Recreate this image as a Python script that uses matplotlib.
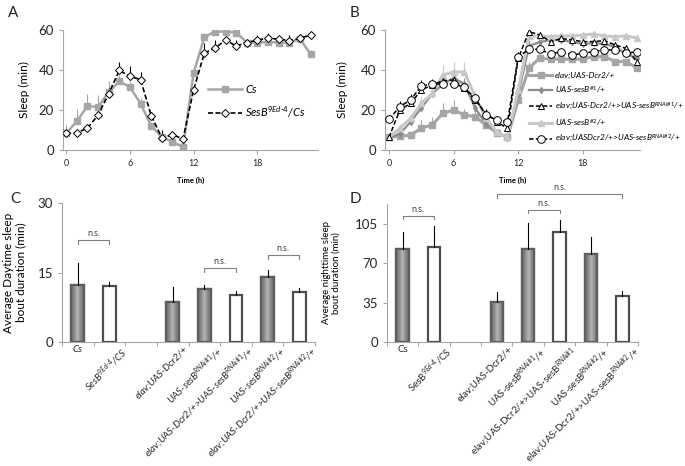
import matplotlib

matplotlib.use("Agg")
import matplotlib.pyplot as plt
import matplotlib.transforms as mtransforms
from matplotlib.colors import LinearSegmentedColormap
import numpy as np

plt.rcParams["font.family"] = ["Lato", "DejaVu Sans"]
plt.rcParams["mathtext.fontset"] = "custom"
plt.rcParams["mathtext.rm"] = "Lato"
plt.rcParams["mathtext.it"] = "Lato:italic"
plt.rcParams["mathtext.bf"] = "Lato:bold"

HOURS = np.arange(24)
HOUR_TICKS = [0, 6, 12, 18]

# --- panel A: sleep per hour ---
CS_SLEEP = [8.3, 14.4, 21.9, 21.6, 28.9, 34.3, 31.5, 23.2, 12.0, 6.6, 4.0, 1.6,
            38.5, 56.4, 59.2, 59.2, 58.7, 53.7, 53.7, 54.0, 53.7, 53.7, 55.5, 48.0]
CS_ERR = [4, 6, 6, 6, 5.6, 3, 3, 3, 2, 2, 1.5, 1,
          3, 2, 1, 1, 1.5, 1, 1, 1, 1, 1, 1.5, 2]
SESB_SLEEP = [8.3, 8.5, 11.0, 17.4, 28.2, 39.8, 36.8, 35.2, 17.2, 6.1, 7.6, 5.6,
              30.2, 48.4, 50.9, 55.0, 52.0, 53.7, 55.0, 55.9, 55.4, 54.7, 55.9, 57.5]
SESB_ERR = [1, 1, 1.5, 2, 3, 4, 5, 4, 2, 4, 1.5, 1.5,
            2, 5, 4.3, 1.5, 3, 1.5, 2.5, 2.6, 1.5, 3, 1.5, 1]

# --- panel B: RNAi lines ---
ELAV_DCR2 = [6.3, 7.0, 7.3, 11.0, 12.5, 18.3, 20.0, 17.5, 16.7, 12.5, 8.7, 6.3,
             25.0, 41.0, 46.0, 45.3, 45.5, 45.3, 45.5, 46.7, 46.7, 44.2, 44.2, 41.0]
ELAV_DCR2_ERR = [1, 1.5, 2, 4, 4, 5, 5, 3, 3, 2, 1.5, 1,
                 3, 3, 2, 1.5, 1.5, 1.5, 1.5, 1.5, 1.5, 1.5, 1.5, 1.5]
UAS_SESB1 = [6.3, 8.0, 14.0, 21.0, 28.0, 33.0, 36.0, 33.0, 21.0, 13.0, 9.0, 6.0,
             28.0, 52.0, 54.0, 55.0, 55.0, 54.0, 53.0, 53.5, 53.0, 51.7, 48.0, 46.0]
UAS_SESB1_ERR = [1, 2, 2, 3, 3, 3, 3, 3, 2, 2, 1.5, 1,
                 3, 3, 2, 2, 2, 2, 2, 2, 2, 2, 2, 2]
RNAI1 = [6.3, 20.0, 23.3, 30.0, 32.5, 34.7, 35.0, 30.8, 25.0, 18.3, 14.2, 10.8,
         46.0, 59.2, 57.5, 54.2, 55.8, 55.0, 54.2, 54.2, 54.7, 52.5, 50.8, 44.2]
RNAI1_ERR = [1, 3, 3, 4, 3, 3, 3, 3, 2, 2, 2, 2,
             3, 1.5, 1.5, 1.5, 1.5, 1.5, 1.5, 1.5, 1.5, 1.5, 1.5, 2]
UAS_SESB2 = [6.3, 10.8, 15.8, 23.3, 28.3, 37.5, 39.0, 39.0, 26.7, 16.0, 9.0, 6.3,
             30.0, 57.0, 57.0, 56.7, 57.0, 57.0, 57.5, 58.0, 57.0, 56.7, 57.0, 56.0]
UAS_SESB2_ERR = [1, 2, 2, 3, 3, 5, 5, 5, 3, 2, 1.5, 1,
                 3, 1.5, 1.5, 1.5, 1.5, 1.5, 1.5, 1.5, 1.5, 1.5, 1.5, 1.5]
RNAI2 = [15.3, 21.7, 25.0, 32.0, 33.0, 33.0, 33.0, 31.3, 25.8, 17.5, 15.0, 14.2,
         46.7, 50.3, 50.3, 48.0, 49.2, 47.5, 48.3, 49.2, 50.0, 50.0, 48.3, 49.2]
RNAI2_ERR = [2, 3, 3, 3, 2, 2, 2, 2, 2, 2, 2, 2,
             2, 1.5, 1.5, 1.5, 1.5, 1.5, 1.5, 1.5, 1.5, 1.5, 1.5, 2]

# --- panels C/D: bout durations ---
SESB_LABEL = r"SesB$^{9Ed\text{-}4}$/CS"
LABELS_C = ["Cs", SESB_LABEL, "", "elav;UAS-Dcr2/+",
            r"UAS-sesB$^{RNAi\#1}$/+", r"elav;UAS-Dcr2/+>UAS-sesB$^{RNAi\#1}$/+",
            r"UAS-sesB$^{RNAi\#2}$/+", r"elav;UAS-Dcr2/+>UAS-sesB$^{RNAi\#2}$/+"]
LABELS_D = ["Cs", SESB_LABEL, "", "elav;UAS-Dcr2/+",
            r"UAS-sesB$^{RNAi\#1}$/+", r"elav;UAS-Dcr2/+>UAS-sesB$^{RNAi\#1}$",
            r"UAS-sesB$^{RNAi\#2}$/+", r"elav;UAS-Dcr2/+>UAS-sesB$^{RNAi\#2}$/+"]
IS_CONTROL = [True, False, True, True, True, False, True, False]
DAY_BOUT = [12.4, 12.0, np.nan, 8.6, 11.4, 10.1, 14.0, 10.8]
DAY_BOUT_ERR = [4.7, 0.9, np.nan, 3.2, 1.0, 0.8, 1.5, 0.9]
NIGHT_BOUT = [82.8, 84.9, np.nan, 35.7, 82.8, 97.7, 78.6, 41.1]
NIGHT_BOUT_ERR = [14.9, 18.5, np.nan, 9.0, 23.5, 11.0, 14.6, 4.2]

# n.s. brackets: (first bar, last bar, leg bottom, bracket top, text y)
BRACKETS_C = [(0, 1, 21.1, 22.0, 22.4), (4, 5, 15.2, 16.0, 16.4), (6, 7, 17.9, 18.8, 19.2)]
BRACKETS_D = [(0, 1, 109.6, 112.6, 114.0), (4, 5, 114.7, 117.7, 119.5), (3, 7, 128.0, 131.7, 133.5)]

AXIS_GREY = "#a6a6a6"
TEXT = "#262626"
BAR_SHADE = LinearSegmentedColormap.from_list("bar", ["#b4b4b4", "#8a8a8a", "#6a6a6a"])


def style_axes(ax):
    for side in ("top", "right"):
        ax.spines[side].set_visible(False)
    for side in ("left", "bottom"):
        ax.spines[side].set_color(AXIS_GREY)
        ax.spines[side].set_linewidth(0.8)
    ax.tick_params(which="both", color=AXIS_GREY, labelcolor=TEXT, length=3, width=0.8)


def upward_errors(ax, y, err, color, lw=0.8):
    ax.errorbar(HOURS, y, yerr=[np.zeros(len(err)), err], fmt="none",
                ecolor=color, elinewidth=lw, capsize=0, zorder=1)


def sleep_axes(ax, xlim, ylabel_pad):
    style_axes(ax)
    ax.set_xlim(*xlim)
    ax.set_ylim(0, 60)
    ax.set_yticks([0, 20, 40, 60])
    ax.set_xticks(HOUR_TICKS)
    ax.tick_params(axis="y", labelsize=9.5)
    ax.tick_params(axis="x", labelsize=6.5)
    ax.set_xlabel("Time (h)", fontsize=5.5, fontweight="bold", labelpad=6)
    ax.set_ylabel("Sleep (min)", fontsize=8.5, labelpad=ylabel_pad)


def bout_axes(ax, labels, yticks, italic):
    style_axes(ax)
    ax.set_xticks(range(len(labels)))
    ax.set_xticks(np.arange(-0.5, len(labels)), minor=True)
    ax.tick_params(axis="y", labelsize=9.5)
    ax.tick_params(axis="x", which="major", length=0, pad=2)
    ax.tick_params(axis="x", which="minor", length=3)
    ax.set_xticklabels(labels, rotation=45, ha="right", rotation_mode="anchor",
                       fontsize=7, fontstyle="italic" if italic else "normal")
    shift = mtransforms.ScaledTranslation(8 / 72, 0, ax.figure.dpi_scale_trans)
    for lab in ax.get_xticklabels():
        if lab.get_text() == "Cs":
            lab.set_rotation(0)
            lab.set_ha("center")
        else:
            lab.set_transform(lab.get_transform() + shift)
    ax.set_yticks(yticks)


def bars(ax, values, errs, ymax):
    width = 0.4
    for xi, (v, e, ctrl) in enumerate(zip(values, errs, IS_CONTROL)):
        if np.isnan(v):
            continue
        patch = ax.bar(xi, v, width=width, color="#8c8c8c" if ctrl else "white",
                       edgecolor="#5e5e5e" if ctrl else "#4d4d4d", linewidth=1.6,
                       zorder=2)[0]
        if ctrl:
            # Excel style shading: lighter centre, darker sides
            shade = np.abs(np.linspace(-1, 1, 40))[None, :]
            img = ax.imshow(shade, extent=[xi - width / 2, xi + width / 2, 0, v],
                            cmap=BAR_SHADE, aspect="auto", zorder=2.1,
                            interpolation="bilinear")
            img.set_clip_path(patch)
            ax.bar(xi, v, width=width, color="none", edgecolor="#5e5e5e",
                   linewidth=1.6, zorder=2.2)
        ax.plot([xi, xi], [v, v + e], color="black", lw=0.8, zorder=3)
    ax.set_xlim(-0.5, len(values) - 0.5)
    ax.set_ylim(0, ymax)


def brackets(ax, specs):
    for a, b, low, high, ty in specs:
        ax.plot([a, a, b, b], [low, high, high, low], color="#808080", lw=0.8,
                clip_on=False, zorder=3)
        ax.text((a + b) / 2, ty, "n.s.", ha="center", va="bottom", fontsize=6.5,
                color="#404040", clip_on=False)


fig = plt.figure(figsize=(6.85, 4.66), dpi=100)
W, H = 685, 466


def add_axes(x0, x1, ytop, ybot):
    return fig.add_axes([x0 / W, 1 - ybot / H, (x1 - x0) / W, (ybot - ytop) / H])


# Panel A
ax_a = add_axes(63, 318, 30, 150)
sleep_axes(ax_a, (-0.3, 23.7), 6)
upward_errors(ax_a, CS_SLEEP, CS_ERR, "#a6a6a6")
upward_errors(ax_a, SESB_SLEEP, SESB_ERR, "black")
ax_a.plot(HOURS, CS_SLEEP, color="#a6a6a6", lw=1.8, marker="s", ms=5, label="Cs", zorder=2)
ax_a.plot(HOURS, SESB_SLEEP, color="black", lw=1.2, ls=(0, (3, 1.5)), marker="D", ms=4,
          mfc="white", mec="black", mew=0.7, label=r"SesB$^{9Ed\text{-}4}$/Cs", zorder=3)
ax_a.legend(loc="center left", bbox_to_anchor=(0.57, 0.40), frameon=False,
            prop={"size": 8, "style": "italic"}, handlelength=3.0, labelspacing=0.9,
            handletextpad=0.3, borderpad=0, borderaxespad=0)

# Panel B
ax_b = add_axes(385, 640, 30, 150)
sleep_axes(ax_b, (-0.37, 23.3), 9)
upward_errors(ax_b, ELAV_DCR2, ELAV_DCR2_ERR, "#a5a5a5")
upward_errors(ax_b, UAS_SESB1, UAS_SESB1_ERR, "#8c8c8c")
upward_errors(ax_b, UAS_SESB2, UAS_SESB2_ERR, "#c8c8c8")
upward_errors(ax_b, RNAI1, RNAI1_ERR, "black", 0.7)
upward_errors(ax_b, RNAI2, RNAI2_ERR, "black", 0.7)
ax_b.plot(HOURS, ELAV_DCR2, color="#a5a5a5", lw=2.2, marker="s", ms=4.5,
          label="elav;UAS-Dcr2/+", zorder=2)
ax_b.plot(HOURS, UAS_SESB1, color="#8c8c8c", lw=1.6, marker="d", ms=3,
          label="UAS-sesB$^{\\#1}$/+", zorder=2)
ax_b.plot(HOURS, RNAI1, color="black", lw=1.1, ls=(0, (3, 1.5)), marker="^", ms=5,
          mfc="white", mec="black", mew=0.7,
          label=r"elav;UAS-Dcr2/+>UAS-sesB$^{RNAi\#1}$/+", zorder=4)
ax_b.plot(HOURS, UAS_SESB2, color="#c8c8c8", lw=2.2, marker="^", ms=4.5,
          label="UAS-sesB$^{\\#2}$/+", zorder=2)
ax_b.plot(HOURS, RNAI2, color="black", lw=1.1, ls=(0, (3, 1.5)), marker="o", ms=5.5,
          mfc="white", mec="black", mew=0.7,
          label=r"elav;UASDcr2/+>UAS-sesB$^{RNAi\#2}$/+", zorder=4)
ax_b.legend(loc="center left", bbox_to_anchor=(0.565, 0.35), frameon=False,
            prop={"size": 6, "style": "italic"}, handlelength=2.8, labelspacing=0.65,
            handletextpad=0.3, borderpad=0, borderaxespad=0)

# Panel C
ax_c = add_axes(62, 315, 203, 342)
bout_axes(ax_c, LABELS_C, [0, 15, 30], True)
bars(ax_c, DAY_BOUT, DAY_BOUT_ERR, 30)
brackets(ax_c, BRACKETS_C)
ax_c.set_ylabel("Average Daytime sleep\nbout duration (min)", fontsize=8.5, labelpad=8,
                linespacing=1.1)

# Panel D
ax_d = add_axes(387, 638, 204, 342)
bout_axes(ax_d, LABELS_D, [0, 35, 70, 105], False)
bars(ax_d, NIGHT_BOUT, NIGHT_BOUT_ERR, 123)
brackets(ax_d, BRACKETS_D)
ax_d.set_ylabel("Average nighttime sleep\nbout duration (min)", fontsize=7, labelpad=10,
                linespacing=1.1)

for letter, (px, py) in zip("ABCD", [(8, 6), (350, 6), (10, 192), (350, 192)]):
    fig.text(px / W, 1 - py / H, letter, fontsize=11, color=TEXT, va="top", ha="left")

fig.savefig("out.png", dpi=100)
